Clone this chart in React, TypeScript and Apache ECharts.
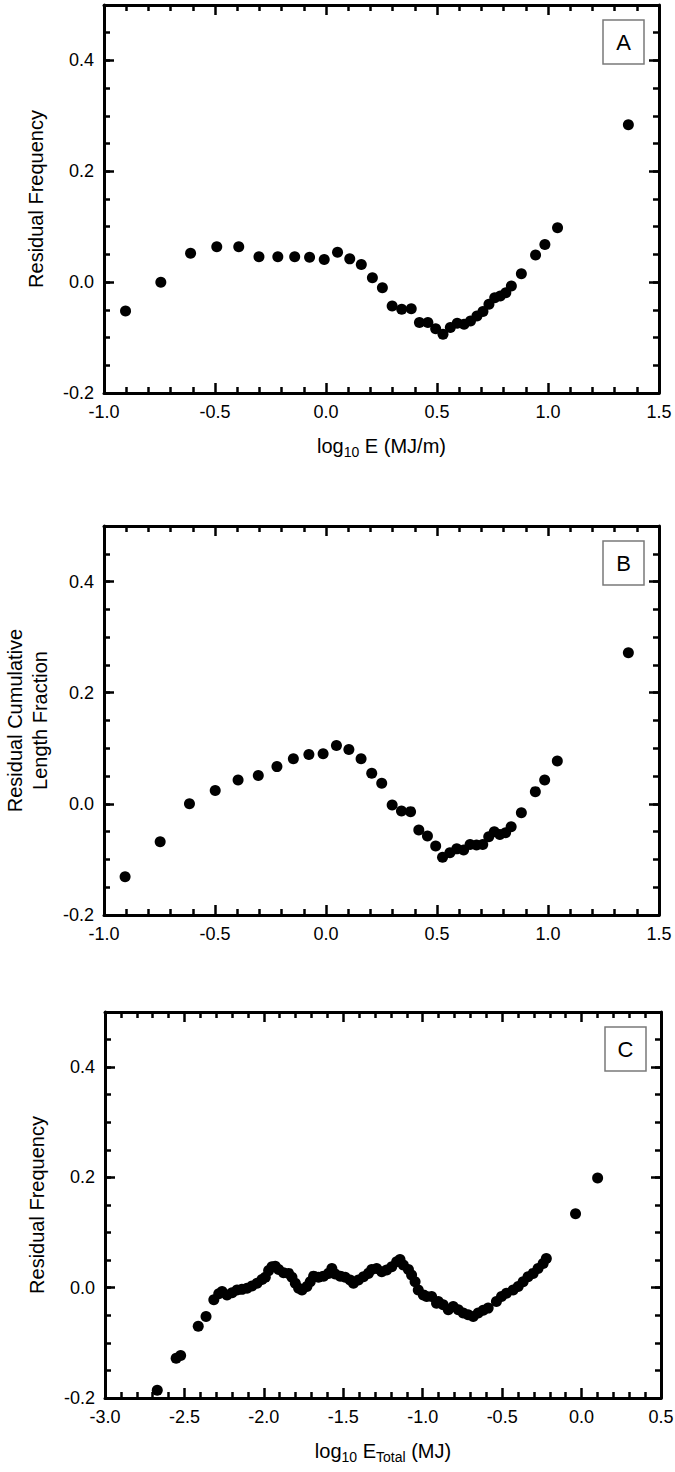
import React, { useEffect, useRef } from "react";
import * as echarts from "echarts";

// Panel A: Residual Frequency vs log10 E (MJ/m)
const panelAX = [-0.903, -0.744, -0.61, -0.492, -0.393, -0.302, -0.217, -0.141, -0.074, -0.008, 0.052, 0.107, 0.159, 0.209, 0.254, 0.298, 0.341, 0.384, 0.421, 0.459, 0.494, 0.527, 0.56, 0.591, 0.622, 0.651, 0.68, 0.707, 0.734, 0.76, 0.785, 0.81, 0.835, 0.88, 0.944, 0.986, 1.043, 1.362];
const panelAY = [-0.052, 0.0, 0.052, 0.064, 0.064, 0.046, 0.046, 0.046, 0.045, 0.041, 0.054, 0.042, 0.032, 0.008, -0.01, -0.043, -0.049, -0.048, -0.073, -0.073, -0.084, -0.094, -0.082, -0.074, -0.076, -0.07, -0.061, -0.053, -0.04, -0.028, -0.025, -0.019, -0.007, 0.015, 0.049, 0.068, 0.098, 0.284];

// Panel B: Residual Cumulative Length Fraction vs log10 E (MJ/m)
const panelBX = [-0.905, -0.747, -0.615, -0.499, -0.396, -0.305, -0.221, -0.147, -0.077, -0.013, 0.047, 0.103, 0.158, 0.206, 0.251, 0.298, 0.34, 0.381, 0.418, 0.457, 0.494, 0.525, 0.558, 0.589, 0.62, 0.649, 0.678, 0.706, 0.733, 0.758, 0.783, 0.809, 0.834, 0.88, 0.943, 0.985, 1.042, 1.362];
const panelBY = [-0.131, -0.068, 0.0, 0.024, 0.043, 0.051, 0.067, 0.081, 0.089, 0.09, 0.105, 0.098, 0.081, 0.055, 0.037, -0.002, -0.013, -0.014, -0.047, -0.058, -0.076, -0.096, -0.088, -0.081, -0.083, -0.073, -0.074, -0.073, -0.059, -0.05, -0.055, -0.052, -0.041, -0.016, 0.022, 0.043, 0.077, 0.272];

// Panel C: Residual Frequency vs log10 E_Total (MJ)
const panelCX = [-2.671, -2.552, -2.524, -2.413, -2.364, -2.315, -2.284, -2.263, -2.232, -2.2, -2.169, -2.138, -2.106, -2.075, -2.043, -2.012, -1.991, -1.97, -1.949, -1.928, -1.907, -1.876, -1.844, -1.823, -1.802, -1.781, -1.76, -1.729, -1.708, -1.687, -1.656, -1.624, -1.593, -1.572, -1.551, -1.519, -1.488, -1.457, -1.436, -1.405, -1.373, -1.342, -1.321, -1.29, -1.258, -1.227, -1.195, -1.164, -1.143, -1.122, -1.09, -1.07, -1.048, -1.028, -0.996, -0.975, -0.944, -0.913, -0.902, -0.871, -0.839, -0.808, -0.776, -0.745, -0.714, -0.682, -0.651, -0.619, -0.588, -0.536, -0.504, -0.473, -0.431, -0.399, -0.368, -0.337, -0.305, -0.274, -0.242, -0.222, -0.038, 0.101];
const panelCY = [-0.186, -0.128, -0.123, -0.07, -0.052, -0.022, -0.011, -0.007, -0.013, -0.009, -0.004, -0.003, -0.001, 0.003, 0.008, 0.015, 0.019, 0.031, 0.038, 0.039, 0.033, 0.027, 0.026, 0.019, 0.008, -0.001, -0.004, 0.002, 0.011, 0.021, 0.019, 0.021, 0.026, 0.035, 0.025, 0.021, 0.019, 0.014, 0.008, 0.014, 0.02, 0.026, 0.033, 0.035, 0.029, 0.032, 0.038, 0.047, 0.051, 0.041, 0.033, 0.023, 0.011, -0.004, -0.013, -0.016, -0.016, -0.028, -0.025, -0.031, -0.04, -0.034, -0.04, -0.046, -0.049, -0.052, -0.046, -0.041, -0.037, -0.025, -0.016, -0.01, -0.004, 0.002, 0.011, 0.02, 0.026, 0.035, 0.044, 0.053, 0.134, 0.199];

const xRangeA = [-1.0, 1.5];
const xRangeC = [-3.0, 0.5];
const yRange = [-0.2, 0.5];
const panelLetters = ["A", "B", "C"];
const yTitles = ["Residual Frequency", "Residual Cumulative\nLength Fraction", "Residual Frequency"];
const xTitles = ["{t|log}{s|10}{t| E (MJ/m)}", "", "{t|log}{s|10}{t| E}{s|Total}{t| (MJ)}"];

const FONT = "'Liberation Sans', Arial, sans-serif";

const axisLineStyle = () => ({ color: "#000", width: 3 });
const tickLineStyle = () => ({ color: "#000", width: 2.5 });
const MAJOR = 10;
const MINOR = 6;

export default function App() {
  const ref = useRef<HTMLDivElement>(null);
  useEffect(() => {
    document.body.style.margin = "0";
    if (!ref.current) return;
    const chart = echarts.init(ref.current, null, { renderer: "svg" });

    const panelRects = [
      { left: 104, top: 5, width: 555, height: 388 },
      { left: 104, top: 526, width: 555, height: 389 },
      { left: 105, top: 1012, width: 556, height: 386 },
    ];
    const xRanges = [xRangeA, xRangeA, xRangeC];
    const datasets = [
      panelAX.map((x, i) => [x, panelAY[i]]),
      panelBX.map((x, i) => [x, panelBY[i]]),
      panelCX.map((x, i) => [x, panelCY[i]]),
    ];

    const grids: any[] = [];
    const xAxes: any[] = [];
    const yAxes: any[] = [];
    const series: any[] = [];
    const graphics: any[] = [];

    panelRects.forEach((g, i) => {
      const xr = xRanges[i];
      grids.push({ ...g, outerBoundsMode: "none", containLabel: false });
      grids.push({ ...g, outerBoundsMode: "none", containLabel: false });
      const mainGrid = 2 * i;
      const minorGrid = 2 * i + 1;
      // main grid x axes: index 4i (bottom), 4i+1 (top)
      xAxes.push({
        gridIndex: mainGrid, type: "value", position: "bottom", min: xr[0], max: xr[1], interval: 0.5,
        axisLine: { show: true, onZero: false, lineStyle: axisLineStyle() },
        axisTick: { show: true, inside: true, length: MAJOR, lineStyle: tickLineStyle() },
        minorTick: { show: true, splitNumber: 5, length: MINOR, lineStyle: tickLineStyle() },
        splitLine: { show: false },
        axisLabel: { show: true, margin: 10, fontSize: 18, fontFamily: FONT, color: "#000", formatter: (v: number) => v.toFixed(1) },
        name: xTitles[i], nameLocation: "middle", nameGap: 40,
        nameTextStyle: {
          rich: {
            t: { fontSize: 20, fontFamily: FONT, color: "#000", lineHeight: 26, verticalAlign: "middle" },
            s: { fontSize: 14, fontFamily: FONT, color: "#000", verticalAlign: "bottom" },
          },
        },
      });
      xAxes.push({
        gridIndex: mainGrid, type: "value", position: "top", min: xr[0], max: xr[1], interval: 0.5,
        axisLine: { show: true, onZero: false, lineStyle: axisLineStyle() },
        axisTick: { show: true, inside: true, length: MAJOR, lineStyle: tickLineStyle() },
        minorTick: { show: true, splitNumber: 5, length: MINOR, lineStyle: tickLineStyle() },
        splitLine: { show: false },
        axisLabel: { show: false },
      });
      // overlay grid x axes (hidden): index 4i+2, 4i+3
      xAxes.push({ gridIndex: minorGrid, type: "value", position: "bottom", min: xr[0], max: xr[1], interval: 0.5, show: false });
      xAxes.push({ gridIndex: minorGrid, type: "value", position: "top", min: xr[0], max: xr[1], interval: 0.5, show: false });

      // main left (index 4i)
      yAxes.push({
        gridIndex: mainGrid, type: "value", position: "left", min: yRange[0], max: yRange[1], interval: 0.2,
        axisLine: { show: true, onZero: false, lineStyle: axisLineStyle() },
        axisTick: { show: true, inside: true, length: MAJOR, lineStyle: tickLineStyle() },
        splitLine: { show: false },
        axisLabel: {
          show: true, margin: 10, fontSize: 18, fontFamily: FONT, color: "#000",
          formatter: (v: number) => (Math.abs(v - 0.5) < 1e-6 ? "" : v.toFixed(1)),
        },
        name: yTitles[i], nameLocation: "middle", nameGap: i === 1 ? 52 : 56,
        nameTextStyle: { fontSize: 20, fontFamily: FONT, color: "#000", lineHeight: 25 },
      });
      // main right (index 4i+1)
      yAxes.push({
        gridIndex: mainGrid, type: "value", position: "right", min: yRange[0], max: yRange[1], interval: 0.2,
        axisLine: { show: true, onZero: false, lineStyle: axisLineStyle() },
        axisTick: { show: true, inside: true, length: MAJOR, lineStyle: tickLineStyle() },
        splitLine: { show: false },
        axisLabel: { show: false },
      });
      // minor left (index 4i+2)
      yAxes.push({
        gridIndex: minorGrid, type: "value", position: "left", min: yRange[0], max: yRange[1], interval: 0.05,
        axisLine: { show: false, onZero: false },
        axisTick: { show: true, inside: true, length: MINOR, lineStyle: tickLineStyle() },
        splitLine: { show: false },
        axisLabel: { show: false },
      });
      // minor right (index 4i+3)
      yAxes.push({
        gridIndex: minorGrid, type: "value", position: "right", min: yRange[0], max: yRange[1], interval: 0.05,
        axisLine: { show: false, onZero: false },
        axisTick: { show: true, inside: true, length: MINOR, lineStyle: tickLineStyle() },
        splitLine: { show: false },
        axisLabel: { show: false },
      });

      series.push({
        type: "scatter", xAxisIndex: 4 * i, yAxisIndex: 4 * i,
        data: datasets[i], symbol: "circle", symbolSize: 11,
        itemStyle: { color: "#000", opacity: 1 }, silent: true,
      });

      const bx = g.left + g.width - 56;
      const by = g.top + 15;
      graphics.push({
        type: "rect", shape: { x: bx, y: by, width: 41, height: 44 },
        style: { fill: "#fff", stroke: "#7a7a7a", lineWidth: 1.5 }, z: 10,
      });
      graphics.push({
        type: "text", x: bx + 20.5, y: by + 22, z: 11,
        style: { text: panelLetters[i], fontSize: 22, fontFamily: FONT, fill: "#000", align: "center", verticalAlign: "middle" },
      });
    });

    chart.setOption({
      animation: false,
      backgroundColor: "#fff",
      grid: grids,
      xAxis: xAxes,
      yAxis: yAxes,
      series,
      graphic: graphics,
    });
    return () => chart.dispose();
  }, []);
  return <div ref={ref} style={{ width: 675, height: 1472 }} />;
}
